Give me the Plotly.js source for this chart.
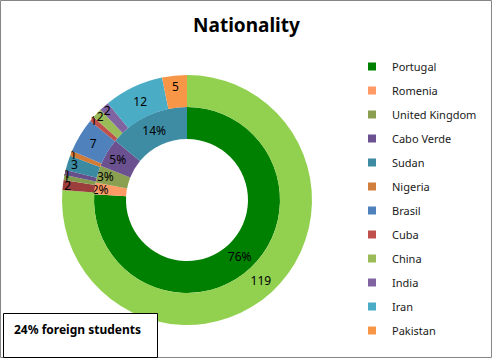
<!DOCTYPE html>
<html><head><meta charset="utf-8">
<script src="https://cdn.plot.ly/plotly-3.0.1.min.js"></script>
<style>html,body{margin:0;padding:0;background:#fff}#chart{width:493px;height:359px}</style>
</head><body><div id="chart"></div>
<script>
// Outer ring: number of students per nationality
const categories = ['Portugal','Romenia','United Kingdom','Cabo Verde','Sudan','Nigeria','Brasil','Cuba','China','India','Iran','Pakistan'];
const studentCounts = [119, 2, 1, 1, 3, 1, 7, 1, 2, 2, 12, 5];
const outerColors = ['#92D050','#9B3E3C','#849C4E','#67508A','#3A8AA2','#D27A36','#4F81BD','#C0504D','#9BBB59','#8064A2','#4BACC6','#F79646'];

// Inner ring: share (%) per group
const innerLabels = ['Portugal','Romenia','United Kingdom','Cabo Verde','Sudan'];
const innerPercents = [76, 2, 3, 5, 14];
const innerColors = ['#008000','#FF9966','#8AA050','#6B5190','#3D8CA4'];

// Legend colours (as shown in the legend)
const legendColors = ['#008000','#FF9966','#8AA050','#6B5190','#3D8CA4','#D07F3E','#4F81BD','#C0504D','#9BBB59','#8064A2','#4BACC6','#F79646'];

const titleText = 'Nationality';
const noteText = '24% foreign students';

const W = 493, H = 359;
const FONT = 'Noto Sans, Open Sans, sans-serif';

// geometry (pixels) of the rings
const cx = 187, cy = 200, rOuter = 125, rMid = 93, rHole = 61;
function dom(r){
  return {x:[(cx-r)/W,(cx+r)/W], y:[(H-cy-r)/H,(H-cy+r)/H]};
}

const traces = [];
traces.push({
  type:'pie', values: innerPercents, labels: innerLabels, sort:false, direction:'clockwise', rotation:0,
  domain: dom(rMid), hole: rHole/rMid,
  marker:{colors: innerColors, line:{width:0}},
  textinfo:'percent', textposition:'inside', insidetextorientation:'horizontal',
  textfont:{family:FONT, size:12, color:'#000'},
  showlegend:false, hoverinfo:'label+percent'
});
traces.push({
  type:'pie', values: studentCounts, labels: categories, sort:false, direction:'clockwise', rotation:0,
  domain: dom(rOuter), hole: rMid/rOuter,
  marker:{colors: outerColors, line:{width:0}},
  textinfo:'value', textposition:'inside', insidetextorientation:'horizontal',
  textfont:{family:FONT, size:12, color:'#000'},
  showlegend:false, hoverinfo:'label+value'
});
categories.forEach((c,i)=>{
  traces.push({
    type:'scatter', mode:'markers', x:[null], y:[null], name:c, legendgroup:'g'+i,
    marker:{symbol:'square', size:8, color:legendColors[i]}, hoverinfo:'skip', showlegend:true
  });
});

const layout = {
  width:W, height:H,
  margin:{l:0,r:0,t:0,b:0},
  paper_bgcolor:'#fff', plot_bgcolor:'rgba(0,0,0,0)',
  title:{text:titleText, x:0.5, xanchor:'center', y:1-25/H, yanchor:'middle',
    font:{family:FONT, size:19, color:'#000', weight:'bold'}},
  xaxis:{visible:false, range:[0,1]}, yaxis:{visible:false, range:[0,1]},
  uniformtext:{minsize:12, mode:'show'},
  showlegend:true,
  legend:{x:352/W, xanchor:'left', y:1-52/H, yanchor:'top', traceorder:'grouped', tracegroupgap:5,
    bgcolor:'rgba(0,0,0,0)', borderwidth:0, font:{family:FONT, size:11, color:'#1a1a1a'}},
  shapes:[
    {type:'rect', xref:'paper', yref:'paper', x0:0.5/W, x1:1-1.5/W, y0:1.5/H, y1:1-0.5/H, line:{color:'#868686', width:1}},
    {type:'rect', xref:'paper', yref:'paper', x0:3.5/W, x1:157.5/W, y0:1-357.5/H, y1:1-313.5/H, line:{color:'#000', width:1}, fillcolor:'#fff', layer:'above'}
  ],
  annotations:[
    {text:noteText, xref:'paper', yref:'paper', x:12/W, xanchor:'left', y:1-329/H, yanchor:'middle', showarrow:false,
      font:{family:FONT, size:12, color:'#000', weight:'bold'}}
  ]
};
Plotly.newPlot('chart', traces, layout, {displayModeBar:false, staticPlot:true});
</script>
</body></html>
